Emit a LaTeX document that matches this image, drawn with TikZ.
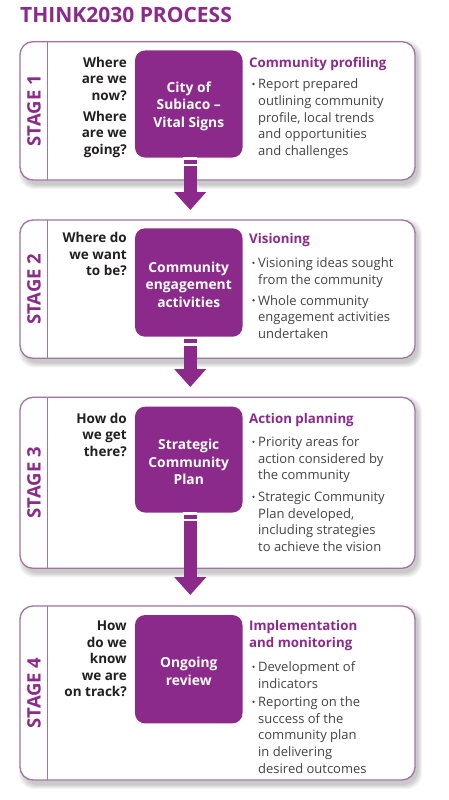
\documentclass[tikz,border=0pt]{standalone}
\usepackage{fontspec}
\setmainfont{Open Sans}
\usetikzlibrary{calc,arrows.meta,backgrounds}
\definecolor{pfill}{HTML}{8C2A8C}
\definecolor{pframe}{HTML}{A274A6}
\definecolor{qtext}{HTML}{231F20}
\definecolor{btext}{HTML}{444444}
\newcommand\myQfont{\bfseries\fontsize{13.5}{16.5}\selectfont}
\newcommand\myBoxfont{\bfseries\fontsize{13.8}{17.5}\selectfont}
\newcommand\myHeadfont{\bfseries\fontsize{13.3}{16.6}\selectfont}
\newcommand\myBodyfont{\fontsize{13}{16.6}\selectfont}
\newcommand\myStagefont{\bfseries\fontsize{18.5}{20}\selectfont}
\newcommand\myTitlefont{\bfseries\fontsize{21}{24}\selectfont}
\newcommand\myTopStrut{\rule{0pt}{15pt}}
\tikzset{
  frame/.style={draw=pframe, line width=1.3pt, fill=white, rounded corners=13pt,
    minimum width=395pt, inner sep=0pt, outer sep=0pt},
  pbox/.style={fill=pfill, rounded corners=10pt, minimum width=107.5pt,
    inner sep=0pt, outer sep=0pt, text=white, font=\myBoxfont, align=center},
  qnode/.style={anchor=base east, inner sep=0pt, align=right, text=qtext, font=\myQfont},
  headnode/.style={anchor=base west, inner sep=0pt, align=left, text=pfill, font=\myHeadfont},
  bodynode/.style={anchor=base west, inner sep=0pt, align=left, text=btext, font=\myBodyfont},
  stagelab/.style={rotate=90, text=pfill, font=\myStagefont, inner sep=0pt},
  flow/.style={draw=pfill, line width=13pt, -{Triangle[width=31pt,length=18pt]}},
  stripe/.style={draw=white, line width=2.2pt},
  divider/.style={draw=pframe, line width=1pt},
  shadowlayer/.style={fill=black, opacity=0.045, rounded corners=15pt},
}
\newcommand\bulletdot[2]{\fill[btext] (#1,#2-4.8) circle (1.3pt);}
\begin{document}
\begin{tikzpicture}[x=1pt,y=-1pt]
\useasboundingbox (0,0) rectangle (449,800);

% title
\node[anchor=base west, inner sep=0pt, text=pfill, font=\myTitlefont] (title) at (20,22.7) {THINK2030 PROCESS};

% frames
\node[frame, minimum height=138.3pt] (f1) at (217.5,110.85) {};
\node[frame, minimum height=138.3pt] (f2) at (217.5,289.15) {};
\node[frame, minimum height=171pt]   (f3) at (217.5,482.8) {};
\node[frame, minimum height=174pt]   (f4) at (217.5,693) {};

\begin{pgfonlayer}{background}
  \fill[white] (0,0) rectangle (449,800);
  \foreach \f in {f1,f2,f3,f4}{
    \foreach \e in {1,...,5}{
      \fill[shadowlayer] ($(\f.north west)+(4-\e,4-\e)$) rectangle ($(\f.south east)+(2+\e,4+\e)$);
    }
  }
\end{pgfonlayer}

% dividers
\foreach \f in {f1,f2,f3,f4}{
  \draw[divider] ($(\f.north west)+(27.5,0)$) -- ($(\f.south west)+(27.5,0)$);
}

% stage labels
\node[stagelab] (s1) at ($(f1.west)+(14,0)$) {STAGE 1};
\node[stagelab] (s2) at ($(f2.west)+(14,0)$) {STAGE 2};
\node[stagelab] (s3) at ($(f3.west)+(14,0)$) {STAGE 3};
\node[stagelab] (s4) at ($(f4.west)+(14,0)$) {STAGE 4};

% purple boxes
\node[pbox, minimum height=107pt]   (b1) at (188.75,104) {\myTopStrut City of\\Subiaco –\\Vital Signs};
\node[pbox, minimum height=108.4pt] (b2) at (188.75,282.5) {\myTopStrut Community\\engagement\\activities};
\node[pbox, minimum height=105.8pt] (b3) at (188.75,459.6) {\myTopStrut Strategic\\Community\\Plan};
\node[pbox, minimum height=108.3pt] (b4) at (188.75,669.2) {\myTopStrut Ongoing\\review};

% questions (anchor: baseline of last line)
\node[qnode] (q1) at (127,154.3) {Where\\are we\\now?\\[4.5pt]Where\\are we\\going?};
\node[qnode] (q2) at (127,275.5) {Where do\\we want\\to be?};
\node[qnode] (q3) at (127,456.3) {How do\\we get\\there?};
\node[qnode] (q4) at (127,696.7) {How\\do we\\know\\we are\\on track?};

% headings
\node[headnode] (h1) at (249,67.3) {Community profiling};
\node[headnode] (h2) at (249,243) {Visioning};
\node[headnode] (h3) at (249,423.3) {Action planning};
\node[headnode] (h4) at (249,647.3) {Implementation\\and monitoring};

% bullet texts (anchor: baseline of last line)
\node[bodynode] (r1a) at (258,155.2) {Report prepared\\outlining community\\profile, local trends\\and opportunities\\and challenges};
\node[bodynode] (r2a) at (258,284.3) {Visioning ideas sought\\from the community};
\node[bodynode] (r2b) at (258,338.2) {Whole community\\engagement activities\\undertaken};
\node[bodynode] (r3a) at (258,479.9) {Priority areas for\\action considered by\\the community};
\node[bodynode] (r3b) at (258,551.5) {Strategic Community\\Plan developed,\\including strategies\\to achieve the vision};
\node[bodynode] (r4a) at (258,688.3) {Development of\\indicators};
\node[bodynode] (r4b) at (258,773.1) {Reporting on the\\success of the\\community plan\\in delivering\\desired outcomes};

\bulletdot{253.5}{88.8}
\bulletdot{253.5}{267.7}
\bulletdot{253.5}{305}
\bulletdot{253.5}{446.7}
\bulletdot{253.5}{501.7}
\bulletdot{253.5}{671.7}
\bulletdot{253.5}{706.7}

% arrows
\coordinate (t1) at ($(b1.south)+(1.5,52.5)$);
\coordinate (t2) at ($(b2.south)+(1.5,50.3)$);
\coordinate (t3) at ($(b3.south)+(1.5,82.5)$);
\draw[flow] ($(b1.south)+(1.5,0)$) -- (t1);
\draw[flow] ($(b2.south)+(1.5,0)$) -- (t2);
\draw[flow] ($(b3.south)+(1.5,0)$) -- (t3);
\foreach \b in {b1,b2,b3}{
  \draw[stripe] ($(\b.south)+(-5.5,1)$) -- ($(\b.south)+(8.5,1)$);
  \draw[stripe] ($(\b.south)+(-5.5,7.8)$) -- ($(\b.south)+(8.5,7.8)$);
}
\end{tikzpicture}
\end{document}
